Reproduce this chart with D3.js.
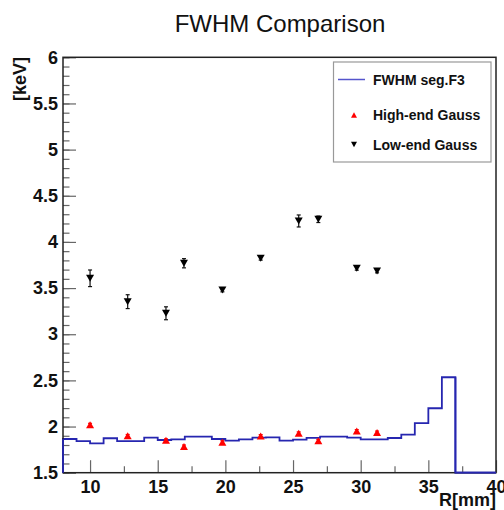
<!DOCTYPE html>
<html>
<head>
<meta charset="utf-8">
<script src="https://cdn.jsdelivr.net/npm/d3@7"></script>
<style>
  body { margin: 0; background: #fff; }
  svg { display: block; }
  text { font-family: "Liberation Sans", Arial, Helvetica, sans-serif; }
</style>
</head>
<body>
<svg id="chart" width="504" height="510"></svg>
<script>
// Histogram: FWHM per 1 mm radial bin (lower bin edge in mm)
const binStart = [8, 9, 10, 11, 12, 13, 14, 15, 16, 17, 18, 19, 20, 21, 22, 23,
                  24, 25, 26, 27, 28, 29, 30, 31, 32, 33, 34, 35, 36, 37, 38, 39];
const binWidth = 1;
const fwhmSeg = [1.865, 1.843, 1.818, 1.873, 1.843, 1.843, 1.879, 1.854, 1.862, 1.890,
                 1.890, 1.865, 1.847, 1.862, 1.879, 1.883, 1.847, 1.858, 1.878, 1.890,
                 1.890, 1.880, 1.862, 1.862, 1.876, 1.912, 2.038, 2.198, 2.534, 0, 0, 0];

// Gaussian fit points
const radius = [10.0, 12.78, 15.61, 16.94, 19.78, 22.61, 25.42, 26.87, 29.71, 31.21];
const highEnd = [2.020, 1.899, 1.852, 1.785, 1.831, 1.898, 1.927, 1.845, 1.952, 1.936];
const highErr = [0.015, 0.015, 0.015, 0.015, 0.015, 0.015, 0.015, 0.015, 0.015, 0.015];
const lowEnd = [3.606, 3.353, 3.227, 3.769, 3.479, 3.823, 4.227, 4.245, 3.714, 3.685];
const lowErr = [0.09, 0.075, 0.07, 0.05, 0.02, 0.02, 0.065, 0.035, 0.02, 0.02];

// Axis ticks
const xTicks = [10, 15, 20, 25, 30, 35, 40];
const xMinorTicks = [12.5, 17.5, 22.5, 27.5, 32.5, 37.5];
const yTicks = [1.5, 2, 2.5, 3, 3.5, 4, 4.5, 5, 5.5, 6];

const legendItems = ["FWHM seg.F3", "High-end Gauss", "Low-end Gauss"];

const frame = { left: 63, right: 496, top: 57.3, bottom: 472.7 };
const svg = d3.select("#chart");

const x = d3.scaleLinear().domain([8, 40]).range([frame.left, frame.right]);
const y = d3.scaleLinear().domain([1.5, 6]).range([frame.bottom, frame.top]).clamp(true);

// Title
svg.append("text")
  .attr("x", 280).attr("y", 32)
  .attr("text-anchor", "middle")
  .attr("font-size", 24)
  .attr("fill", "#111")
  .text("FWHM Comparison");

// Histogram outline (step line starting from the baseline)
const histPts = [[x(binStart[0]), y(y.domain()[0])]];
binStart.forEach((b, i) => {
  histPts.push([x(b), y(fwhmSeg[i])]);
  histPts.push([x(b + binWidth), y(fwhmSeg[i])]);
});
svg.append("path")
  .attr("d", d3.line()(histPts))
  .attr("fill", "none")
  .attr("stroke", "#2626b0")
  .attr("stroke-width", 1.8);

// Axes: ticks point into the frame
const tickColor = "#666";
const yMinor = d3.range(15, 61).map(d => d / 10);

const gy = svg.append("g").attr("transform", `translate(${frame.left},0)`);
gy.call(d3.axisLeft(y).tickValues(yMinor).tickSize(-6.5).tickFormat(""));
gy.call(g => g.select(".domain").remove());
const gyMaj = svg.append("g").attr("transform", `translate(${frame.left},0)`);
gyMaj.call(d3.axisLeft(y).tickValues(yTicks).tickSize(-13).tickPadding(5).tickFormat(d3.format("~g")));
gyMaj.call(g => g.select(".domain").remove());

const gx = svg.append("g").attr("transform", `translate(0,${frame.bottom})`);
gx.call(d3.axisBottom(x).tickValues(xMinorTicks).tickSize(-6.5).tickFormat(""));
gx.call(g => g.select(".domain").remove());
const gxMaj = svg.append("g").attr("transform", `translate(0,${frame.bottom})`);
gxMaj.call(d3.axisBottom(x).tickValues(xTicks).tickSize(-12.5).tickPadding(7.5).tickFormat(d3.format("~g")));
gxMaj.call(g => g.select(".domain").remove());

svg.selectAll(".tick line").attr("stroke", tickColor).attr("stroke-width", 1.2);
svg.selectAll(".tick text")
  .attr("font-size", 18)
  .attr("font-weight", "bold")
  .attr("fill", "#111")
  .attr("font-family", "\"Liberation Sans\", Arial, Helvetica, sans-serif");

// Frame
svg.append("rect")
  .attr("x", frame.left).attr("y", frame.top)
  .attr("width", frame.right - frame.left)
  .attr("height", frame.bottom - frame.top)
  .attr("fill", "none")
  .attr("stroke", "#222")
  .attr("stroke-width", 1.5);

// Redraw the histogram's left edge and empty tail over the frame
svg.append("path")
  .attr("d", d3.line()(histPts.slice(0, 2)))
  .attr("stroke", "#2626b0").attr("stroke-width", 1.8);
const lastFilled = fwhmSeg.length - 1 - [...fwhmSeg].reverse().findIndex(v => v > 0);
svg.append("path")
  .attr("d", d3.line()(histPts.slice(2 * lastFilled + 2)))
  .attr("fill", "none")
  .attr("stroke", "#2626b0").attr("stroke-width", 1.8);

// Marker shapes centred on their bounding box
function triUp(cx, cy, w, h) {
  return `M${cx - w / 2},${cy + h / 2}L${cx + w / 2},${cy + h / 2}L${cx},${cy - h / 2}Z`;
}
function triDown(cx, cy, w, h) {
  return `M${cx - w / 2},${cy - h / 2}L${cx + w / 2},${cy - h / 2}L${cx},${cy + h / 2}Z`;
}

function drawErrors(vals, errs, color) {
  const g = svg.append("g").attr("stroke", color).attr("stroke-width", 1.2);
  vals.forEach((v, i) => {
    const cx = x(radius[i]);
    const y0 = y(v - errs[i]), y1 = y(v + errs[i]);
    g.append("line").attr("x1", cx).attr("x2", cx).attr("y1", y0).attr("y2", y1);
    g.append("line").attr("x1", cx - 2).attr("x2", cx + 2).attr("y1", y0).attr("y2", y0);
    g.append("line").attr("x1", cx - 2).attr("x2", cx + 2).attr("y1", y1).attr("y2", y1);
  });
}

drawErrors(highEnd, highErr, "#f00");
svg.append("g").selectAll("path")
  .data(highEnd)
  .join("path")
  .attr("d", (v, i) => triUp(x(radius[i]), y(v), 8, 7))
  .attr("fill", "#f00");

drawErrors(lowEnd, lowErr, "#111");
svg.append("g").selectAll("path")
  .data(lowEnd)
  .join("path")
  .attr("d", (v, i) => triDown(x(radius[i]), y(v), 8, 7))
  .attr("fill", "#000");

// Axis titles
svg.append("text")
  .attr("transform", "translate(26,57) rotate(-90)")
  .attr("text-anchor", "end")
  .attr("font-size", 18)
  .attr("font-weight", "bold")
  .attr("fill", "#111")
  .text("[keV]");
svg.append("text")
  .attr("x", 496).attr("y", 506)
  .attr("text-anchor", "end")
  .attr("font-size", 18)
  .attr("font-weight", "bold")
  .attr("fill", "#111")
  .text("R[mm]");

// Legend
const lg = svg.append("g");
lg.append("rect")
  .attr("x", 333.5).attr("y", 62)
  .attr("width", 157.5).attr("height", 100)
  .attr("fill", "#fff")
  .attr("stroke", "#999")
  .attr("stroke-width", 1.2);
const rowY = [79.5, 115, 144.5];
lg.append("line")
  .attr("x1", 338).attr("x2", 365)
  .attr("y1", rowY[0]).attr("y2", rowY[0])
  .attr("stroke", "#5555cc").attr("stroke-width", 1.5);
lg.append("path").attr("d", triUp(354, rowY[1], 6, 5.5)).attr("fill", "#f00");
lg.append("path").attr("d", triDown(354, rowY[2], 6, 5.5)).attr("fill", "#000");
lg.selectAll("text.entry")
  .data(legendItems)
  .join("text")
  .attr("class", "entry")
  .attr("x", 373)
  .attr("y", (d, i) => rowY[i] + 5)
  .attr("font-size", 14)
  .attr("font-weight", "bold")
  .attr("fill", "#111")
  .text(d => d);
</script>
</body>
</html>
